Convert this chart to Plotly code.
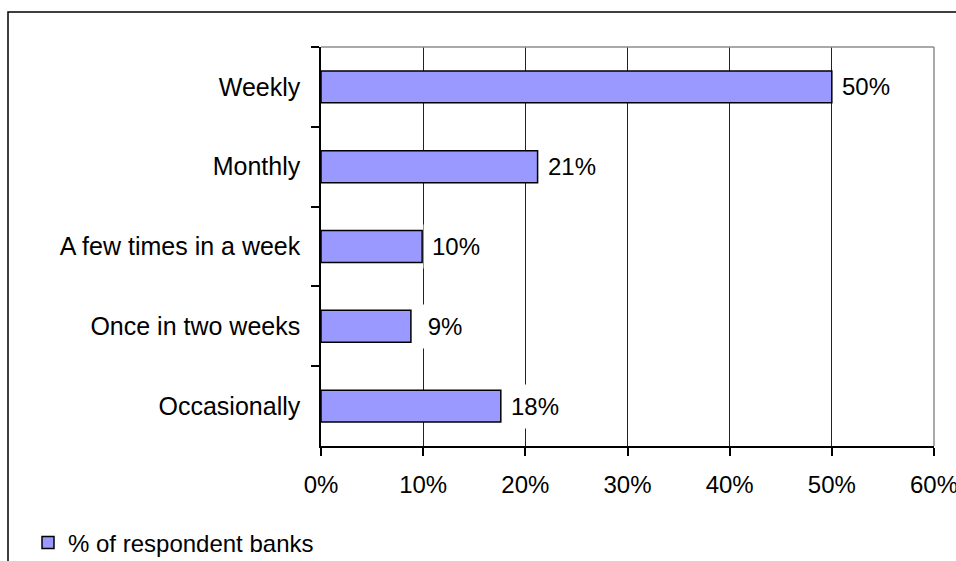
import plotly.graph_objects as go

# Survey data: how often banks perform the activity
categories = ["Weekly", "Monthly", "A few times in a week", "Once in two weeks", "Occasionally"]
shares = [0.50, 0.212, 0.099, 0.088, 0.176]
series_name = "% of respondent banks"
x_ticks = [0.0, 0.1, 0.2, 0.3, 0.4, 0.5, 0.6]

# Page geometry (pixels)
W, H = 956, 561
ML, MR, MT, MB = 321, 22, 47, 115
PW, PH = W - ML - MR, H - MT - MB

FONT = "Liberation Sans, Arial, sans-serif"
FS = 24
BAR = "#9999FF"


def px_x(p):
    return (p - ML) / PW


def px_y(p):
    return (H - MB - p) / PH


def label_text(v):
    s = f"{v:.0%}"
    return "\u00a0" * (3 - len(s)) + s


fig = go.Figure(
    go.Bar(
        x=shares,
        y=categories,
        orientation="h",
        name=series_name,
        marker=dict(color=BAR, line=dict(color="black", width=1.5)),
        showlegend=True,
        hoverinfo="skip",
    )
)

annotations = [
    dict(
        x=v, y=c, xref="x", yref="y",
        text=label_text(v), showarrow=False,
        xanchor="left", yanchor="middle", xshift=1,
        bgcolor="white", borderpad=8,
        font=dict(family=FONT, size=FS, color="black"),
    )
    for c, v in zip(categories, shares)
]

shapes = [
    # chart frame
    dict(type="rect", xref="paper", yref="paper",
         x0=px_x(8), x1=px_x(W + 20), y0=px_y(12), y1=px_y(H + 20),
         line=dict(color="black", width=1.5), fillcolor="rgba(0,0,0,0)", layer="below"),
    # plot area top and right edges
    dict(type="line", xref="paper", yref="paper", x0=0, x1=1, y0=1, y1=1,
         line=dict(color="#8c8c8c", width=1.5), layer="above"),
    dict(type="line", xref="paper", yref="paper", x0=1, x1=1, y0=0, y1=1,
         line=dict(color="#8c8c8c", width=1.5), layer="above"),
]

fig.update_layout(
    width=W, height=H,
    margin=dict(l=ML, r=MR, t=MT, b=MB, pad=0, autoexpand=False),
    paper_bgcolor="white", plot_bgcolor="white",
    font=dict(family=FONT, size=FS, color="black"),
    bargap=0.6,
    shapes=shapes,
    annotations=annotations,
    legend=dict(
        orientation="h", x=px_x(28), y=px_y(543),
        xanchor="left", yanchor="middle",
        font=dict(family=FONT, size=FS, color="black"),
        bgcolor="rgba(0,0,0,0)",
    ),
)

fig.update_xaxes(
    range=[0, 0.6], tickvals=x_ticks, tickformat=".0%",
    showgrid=True, gridcolor="#222222", gridwidth=1,
    zeroline=False,
    showline=True, linecolor="black", linewidth=1.5,
    ticks="outside", ticklen=8, tickcolor="black", tickwidth=1.5,
    ticklabelstandoff=8, ticklabeloverflow="allow",
    automargin=False,
    fixedrange=True,
)

fig.update_yaxes(
    categoryorder="array", categoryarray=categories, autorange="reversed",
    showgrid=False, zeroline=False,
    showline=True, linecolor="black", linewidth=1.5,
    ticks="outside", ticklen=8, tickcolor="black", tickwidth=1.5,
    tickson="boundaries", ticklabelstandoff=14,
    tickfont=dict(family=FONT, size=25, color="black"),
    automargin=False,
    fixedrange=True,
)

fig.write_html("out.html")
